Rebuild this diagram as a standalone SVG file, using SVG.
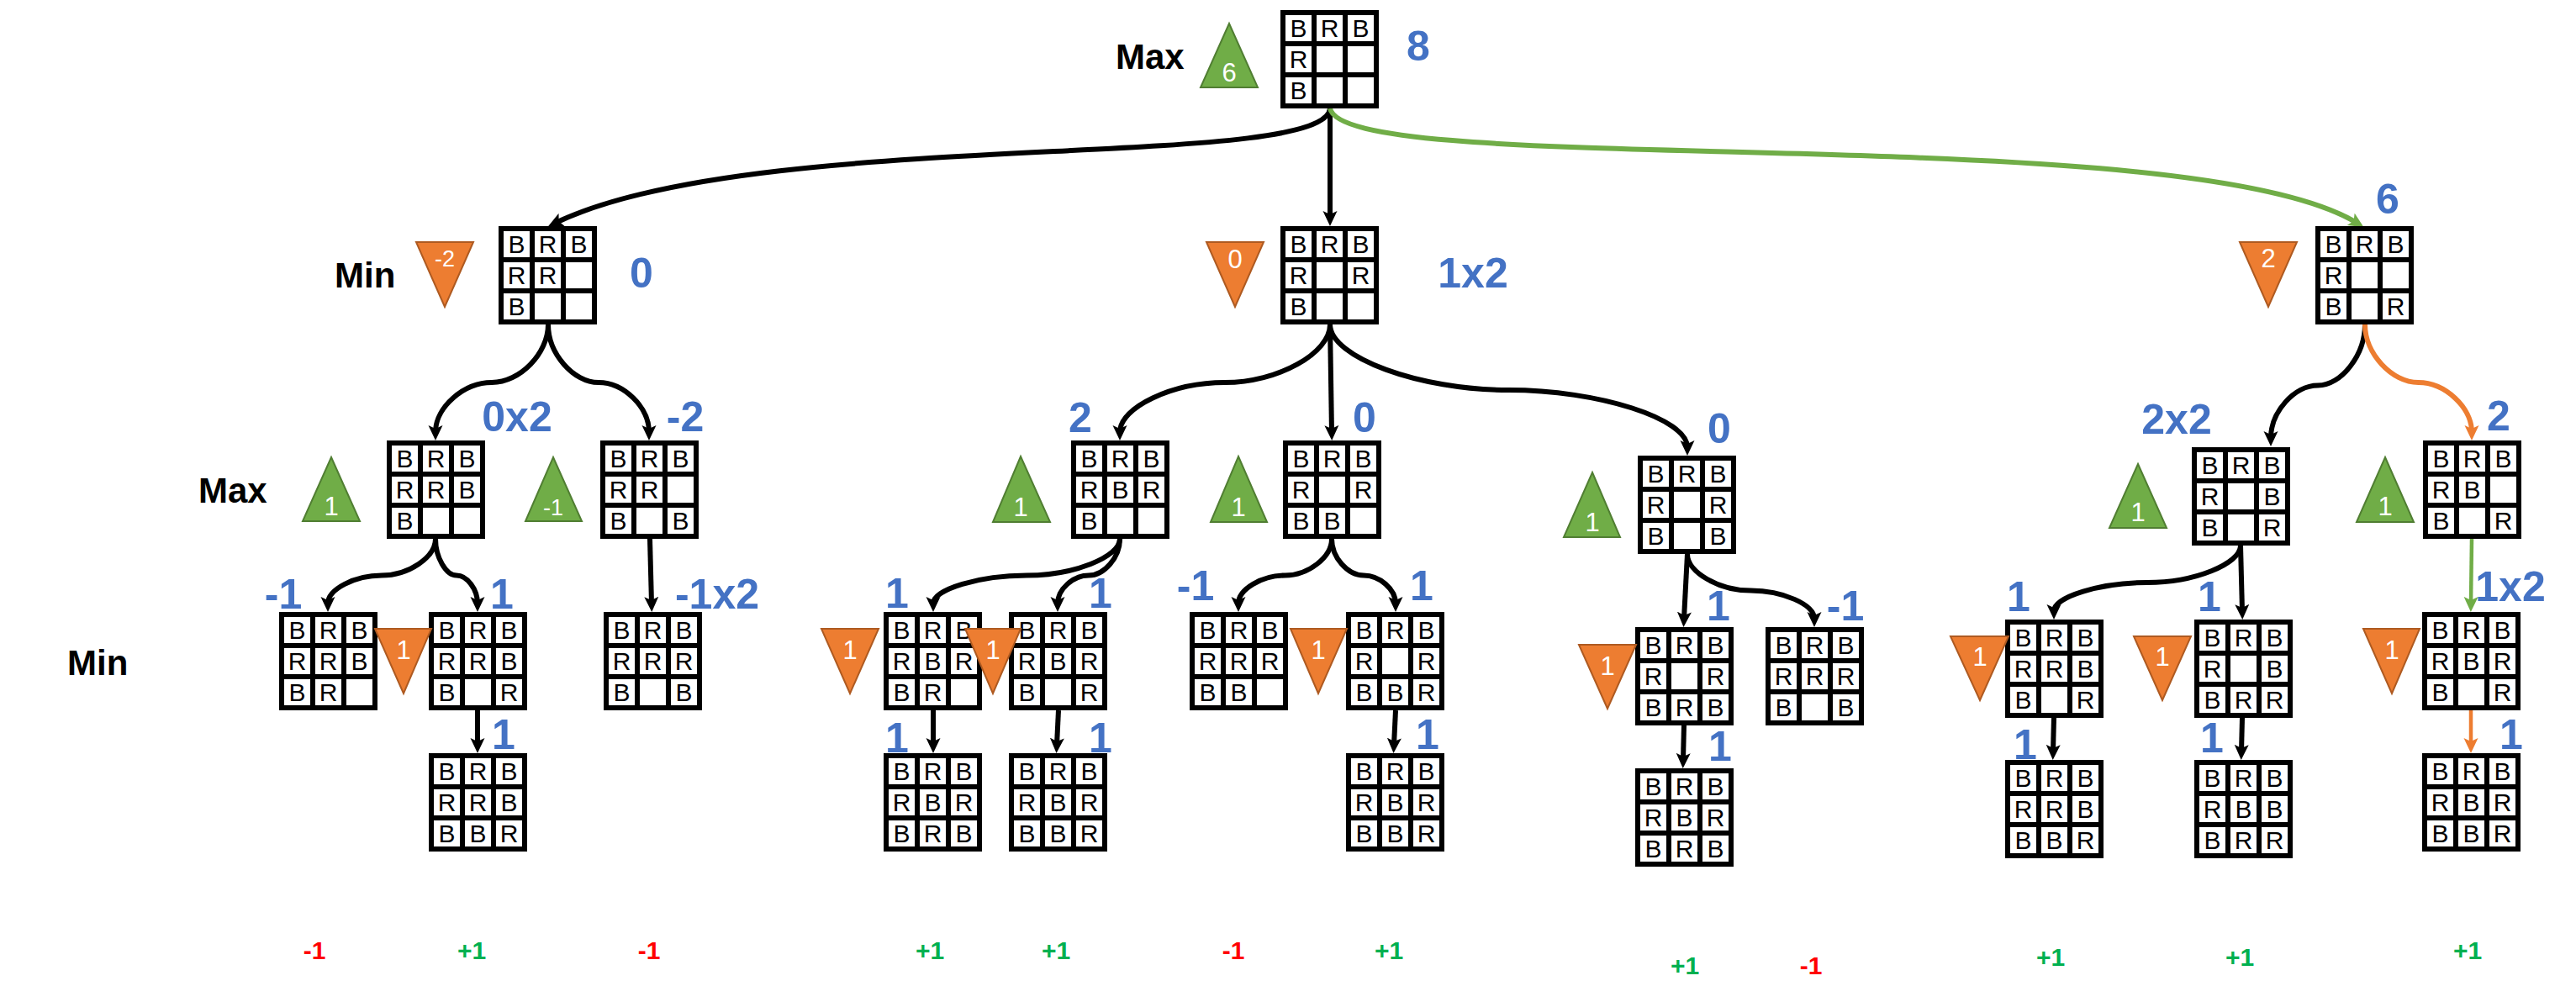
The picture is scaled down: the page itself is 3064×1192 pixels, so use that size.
<svg xmlns="http://www.w3.org/2000/svg" xmlns:xlink="http://www.w3.org/1999/xlink" width="3064" height="1192" viewBox="0 0 3064 1192">
<style>
.c{font-family:"Liberation Sans",Arial,sans-serif;font-size:30px;text-anchor:middle;fill:#000}
.lbl{font-family:"Liberation Sans",Arial,sans-serif;font-weight:bold;font-size:42px;fill:#000}
.v{font-family:"Liberation Sans",Arial,sans-serif;font-weight:bold;font-size:50px;fill:#4472C4;text-anchor:middle}
.tg{fill:#70AD47;stroke:#507E32;stroke-width:2}
.to{fill:#ED7D31;stroke:#AE5A21;stroke-width:2}
.tt{font-family:"Liberation Sans",Arial,sans-serif;font-size:31px;fill:#fff;text-anchor:middle}
.ts{font-size:27px}
.e{fill:none;stroke:#000;stroke-width:6}
.eg{stroke:#70AD47}
.eo{stroke:#ED7D31}
.thin{stroke-width:4.5}
.r{font-family:"Liberation Sans",Arial,sans-serif;font-weight:bold;font-size:30px;text-anchor:middle}
.neg{fill:#FF0000}
.pos{fill:#00B050}
</style>
<defs>
<g id="bd"><rect x="0" y="0" width="117" height="117" fill="#000"/>
<rect x="6" y="6" width="31" height="31" fill="#fff"/><rect x="43" y="6" width="31" height="31" fill="#fff"/><rect x="80" y="6" width="31" height="31" fill="#fff"/>
<rect x="6" y="43" width="31" height="31" fill="#fff"/><rect x="43" y="43" width="31" height="31" fill="#fff"/><rect x="80" y="43" width="31" height="31" fill="#fff"/>
<rect x="6" y="80" width="31" height="31" fill="#fff"/><rect x="43" y="80" width="31" height="31" fill="#fff"/><rect x="80" y="80" width="31" height="31" fill="#fff"/>
</g>
<marker id="ak" viewBox="0 0 18 18" markerWidth="18" markerHeight="18" markerUnits="userSpaceOnUse" refX="8" refY="9" orient="auto"><path d="M0,0.5 L18,9 L0,17.5 L4,9 z" fill="#000"/></marker>
<marker id="ag" viewBox="0 0 18 18" markerWidth="18" markerHeight="18" markerUnits="userSpaceOnUse" refX="8" refY="9" orient="auto"><path d="M0,0.5 L18,9 L0,17.5 L4,9 z" fill="#70AD47"/></marker>
<marker id="ao" viewBox="0 0 18 18" markerWidth="18" markerHeight="18" markerUnits="userSpaceOnUse" refX="8" refY="9" orient="auto"><path d="M0,0.5 L18,9 L0,17.5 L4,9 z" fill="#ED7D31"/></marker>
</defs>
<rect width="3064" height="1192" fill="#fff"/>

<g id="level-labels">
<text class="lbl" x="1327" y="82">Max</text>
<text class="lbl" x="398" y="342">Min</text>
<text class="lbl" x="236" y="598">Max</text>
<text class="lbl" x="80" y="803">Min</text>
</g>

<g id="connectors">
<path class="e" marker-end="url(#ak)" d="M1582,129 C1575,205 900,150 661,265"/>
<path class="e" marker-end="url(#ak)" d="M1582,129 L1582,259"/>
<path class="e eg" marker-end="url(#ag)" d="M1582,129 C1600,215 2600,140 2803,265"/>
<path class="e" marker-end="url(#ak)" d="M652,386 C652,420.5 618.5,455 585,455 C551.5,455 518,484.5 518,514"/>
<path class="e" marker-end="url(#ak)" d="M652,386 C652,420.5 682,455 712,455 C742,455 772,484.5 772,514"/>
<path class="e" marker-end="url(#ak)" d="M1582,386 C1582,420.5 1519.5,455 1457,455 C1394.5,455 1332,484.5 1332,514"/>
<path class="e" marker-end="url(#ak)" d="M1582,386 L1584,514"/>
<path class="e" marker-end="url(#ak)" d="M1582,386 C1582,425 1688,464 1794.5,464 C1901,464 2007,498 2007,532"/>
<path class="e" marker-end="url(#ak)" d="M2813,386 C2813,422 2785,458.5 2757,458.5 C2729,458.5 2701,490 2701,521"/>
<path class="e eo" marker-end="url(#ao)" d="M2813,386 C2813,420.5 2845,455 2876.5,455 C2908,455 2940,484.5 2940,514"/>
<path class="e" marker-end="url(#ak)" d="M518,641 C518,663 486,684.5 454,684.5 C422,684.5 390,701 390,718"/>
<path class="e" marker-end="url(#ak)" d="M518,641 C518,663 530.5,684.5 543,684.5 C555.5,684.5 568,701 568,718"/>
<path class="e" marker-end="url(#ak)" d="M773,641 L775,718"/>
<path class="e" marker-end="url(#ak)" d="M568,845 L568,886"/>
<path class="e" marker-end="url(#ak)" d="M1332,641 C1332,663 1276.5,684.5 1221,684.5 C1165.5,684.5 1110,701 1110,718"/>
<path class="e" marker-end="url(#ak)" d="M1332,641 C1332,663 1313.5,684.5 1295,684.5 C1276.5,684.5 1258,701 1258,718"/>
<path class="e" marker-end="url(#ak)" d="M1584,641 C1584,663 1556,684.5 1528.5,684.5 C1501,684.5 1473,701 1473,718"/>
<path class="e" marker-end="url(#ak)" d="M1584,641 C1584,663 1603,684.5 1622,684.5 C1641,684.5 1660,701 1660,718"/>
<path class="e" marker-end="url(#ak)" d="M1110,845 L1110,886"/>
<path class="e" marker-end="url(#ak)" d="M1259,845 L1257,886"/>
<path class="e" marker-end="url(#ak)" d="M1660,845 L1658,886"/>
<path class="e" marker-end="url(#ak)" d="M2007,659 L2003,736"/>
<path class="e" marker-end="url(#ak)" d="M2007,659 C2007,681 2045,702.5 2082.5,702.5 C2120,702.5 2158,719 2158,736"/>
<path class="e" marker-end="url(#ak)" d="M2003,863 L2002,904"/>
<path class="e" marker-end="url(#ak)" d="M2665,649 C2665,671 2609.5,693 2554,693 C2498.5,693 2443,710 2443,727"/>
<path class="e" marker-end="url(#ak)" d="M2665,649 L2667,727"/>
<path class="e eg thin" marker-end="url(#ag)" d="M2940,641 L2939,718"/>
<path class="e" marker-end="url(#ak)" d="M2443,854 L2442,894"/>
<path class="e" marker-end="url(#ak)" d="M2667,854 L2666,894"/>
<path class="e eo thin" marker-end="url(#ao)" d="M2939,845 L2939,886"/>
</g>

<g id="root">
<g transform="translate(1523,12)"><use href="#bd"/><text class="c" x="21.5 58.5 95.5" y="32">BRB</text><text class="c" x="21.5" y="69">R</text><text class="c" x="21.5" y="106">B</text></g>
<polygon class="tg" points="1462,28 1496,104 1428,104"/><text class="tt" x="1462" y="97">6</text>
<text class="v" x="1687" y="72">8</text>
</g>

<g id="n1a">
<g transform="translate(593,269)"><use href="#bd"/><text class="c" x="21.5 58.5 95.5" y="32">BRB</text><text class="c" x="21.5 58.5" y="69">RR</text><text class="c" x="21.5" y="106">B</text></g>
<polygon class="to" points="495,288 563,288 529,365"/><text class="tt ts" x="529" y="317">-2</text>
<text class="v" x="763" y="342">0</text>
</g>

<g id="n1b">
<g transform="translate(1523,269)"><use href="#bd"/><text class="c" x="21.5 58.5 95.5" y="32">BRB</text><text class="c" x="21.5 95.5" y="69">RR</text><text class="c" x="21.5" y="106">B</text></g>
<polygon class="to" points="1435,288 1503,288 1469,365"/><text class="tt" x="1469" y="319">0</text>
<text class="v" x="1752" y="342">1x2</text>
</g>

<g id="n1c">
<g transform="translate(2754,269)"><use href="#bd"/><text class="c" x="21.5 58.5 95.5" y="32">BRB</text><text class="c" x="21.5" y="69">R</text><text class="c" x="21.5 95.5" y="106">BR</text></g>
<polygon class="to" points="2664,288 2732,288 2698,365"/><text class="tt" x="2698" y="318">2</text>
<text class="v" x="2840" y="254">6</text>
</g>

<g id="n2a">
<g transform="translate(460,524)"><use href="#bd"/><text class="c" x="21.5 58.5 95.5" y="32">BRB</text><text class="c" x="21.5 58.5 95.5" y="69">RRB</text><text class="c" x="21.5" y="106">B</text></g>
<polygon class="tg" points="394,544 428,620 360,620"/><text class="tt" x="394" y="613">1</text>
<text class="v" x="615" y="513">0x2</text>
</g>

<g id="n2b">
<g transform="translate(714,524)"><use href="#bd"/><text class="c" x="21.5 58.5 95.5" y="32">BRB</text><text class="c" x="21.5 58.5" y="69">RR</text><text class="c" x="21.5 95.5" y="106">BB</text></g>
<polygon class="tg" points="658,544 692,620 625,620"/><text class="tt ts" x="658" y="613">-1</text>
<text class="v" x="815" y="513">-2</text>
</g>

<g id="n2c">
<g transform="translate(1274,524)"><use href="#bd"/><text class="c" x="21.5 58.5 95.5" y="32">BRB</text><text class="c" x="21.5 58.5 95.5" y="69">RBR</text><text class="c" x="21.5" y="106">B</text></g>
<polygon class="tg" points="1214,543 1249,621 1181,621"/><text class="tt" x="1214" y="614">1</text>
<text class="v" x="1285" y="514">2</text>
</g>

<g id="n2d">
<g transform="translate(1526,524)"><use href="#bd"/><text class="c" x="21.5 58.5 95.5" y="32">BRB</text><text class="c" x="21.5 95.5" y="69">RR</text><text class="c" x="21.5 58.5" y="106">BB</text></g>
<polygon class="tg" points="1473,543 1507,621 1440,621"/><text class="tt" x="1473" y="614">1</text>
<text class="v" x="1623" y="514">0</text>
</g>

<g id="n2e">
<g transform="translate(1948,542)"><use href="#bd"/><text class="c" x="21.5 58.5 95.5" y="32">BRB</text><text class="c" x="21.5 95.5" y="69">RR</text><text class="c" x="21.5 95.5" y="106">BB</text></g>
<polygon class="tg" points="1894,562 1927,639 1860,639"/><text class="tt" x="1894" y="632">1</text>
<text class="v" x="2045" y="527">0</text>
</g>

<g id="n2f">
<g transform="translate(2607,532)"><use href="#bd"/><text class="c" x="21.5 58.5 95.5" y="32">BRB</text><text class="c" x="21.5 95.5" y="69">RB</text><text class="c" x="21.5 95.5" y="106">BR</text></g>
<polygon class="tg" points="2543,552 2577,628 2509,628"/><text class="tt" x="2543" y="620">1</text>
<text class="v" x="2589" y="516">2x2</text>
</g>

<g id="n2g">
<g transform="translate(2882,524)"><use href="#bd"/><text class="c" x="21.5 58.5 95.5" y="32">BRB</text><text class="c" x="21.5 58.5" y="69">RB</text><text class="c" x="21.5 95.5" y="106">BR</text></g>
<polygon class="tg" points="2837,544 2871,621 2803,621"/><text class="tt" x="2837" y="613">1</text>
<text class="v" x="2972" y="512">2</text>
</g>

<g id="n3h">
<g transform="translate(332,728)"><use href="#bd"/><text class="c" x="21.5 58.5 95.5" y="32">BRB</text><text class="c" x="21.5 58.5 95.5" y="69">RRB</text><text class="c" x="21.5 58.5" y="106">BR</text></g>
<text class="v" x="337" y="724">-1</text>
</g>

<g id="n3i">
<g transform="translate(510,728)"><use href="#bd"/><text class="c" x="21.5 58.5 95.5" y="32">BRB</text><text class="c" x="21.5 58.5 95.5" y="69">RRB</text><text class="c" x="21.5 95.5" y="106">BR</text></g>
<polygon class="to" points="446,748 513,748 480,825"/><text class="tt" x="480" y="784">1</text>
<text class="v" x="597" y="724">1</text>
</g>

<g id="n3j">
<g transform="translate(718,728)"><use href="#bd"/><text class="c" x="21.5 58.5 95.5" y="32">BRB</text><text class="c" x="21.5 58.5 95.5" y="69">RRR</text><text class="c" x="21.5 95.5" y="106">BB</text></g>
<text class="v" x="853" y="724">-1x2</text>
</g>

<g id="n4k">
<g transform="translate(510,896)"><use href="#bd"/><text class="c" x="21.5 58.5 95.5" y="32">BRB</text><text class="c" x="21.5 58.5 95.5" y="69">RRB</text><text class="c" x="21.5 58.5 95.5" y="106">BBR</text></g>
<text class="v" x="599" y="891">1</text>
</g>

<g id="n3l">
<g transform="translate(1051,728)"><use href="#bd"/><text class="c" x="21.5 58.5 95.5" y="32">BRB</text><text class="c" x="21.5 58.5 95.5" y="69">RBR</text><text class="c" x="21.5 58.5" y="106">BR</text></g>
<polygon class="to" points="977,748 1045,748 1011,825"/><text class="tt" x="1011" y="784">1</text>
<text class="v" x="1067" y="723">1</text>
</g>

<g id="n3m">
<g transform="translate(1200,728)"><use href="#bd"/><text class="c" x="21.5 58.5 95.5" y="32">BRB</text><text class="c" x="21.5 58.5 95.5" y="69">RBR</text><text class="c" x="21.5 95.5" y="106">BR</text></g>
<polygon class="to" points="1148,748 1214,748 1181,825"/><text class="tt" x="1181" y="784">1</text>
<text class="v" x="1309" y="723">1</text>
</g>

<g id="n3n">
<g transform="translate(1415,728)"><use href="#bd"/><text class="c" x="21.5 58.5 95.5" y="32">BRB</text><text class="c" x="21.5 58.5 95.5" y="69">RRR</text><text class="c" x="21.5 58.5" y="106">BB</text></g>
<text class="v" x="1422" y="714">-1</text>
</g>

<g id="n3o">
<g transform="translate(1601,728)"><use href="#bd"/><text class="c" x="21.5 58.5 95.5" y="32">BRB</text><text class="c" x="21.5 95.5" y="69">RR</text><text class="c" x="21.5 58.5 95.5" y="106">BBR</text></g>
<polygon class="to" points="1535,748 1602,748 1568,825"/><text class="tt" x="1568" y="784">1</text>
<text class="v" x="1691" y="714">1</text>
</g>

<g id="n4p">
<g transform="translate(1051,896)"><use href="#bd"/><text class="c" x="21.5 58.5 95.5" y="32">BRB</text><text class="c" x="21.5 58.5 95.5" y="69">RBR</text><text class="c" x="21.5 58.5 95.5" y="106">BRB</text></g>
<text class="v" x="1067" y="895">1</text>
</g>

<g id="n4q">
<g transform="translate(1200,896)"><use href="#bd"/><text class="c" x="21.5 58.5 95.5" y="32">BRB</text><text class="c" x="21.5 58.5 95.5" y="69">RBR</text><text class="c" x="21.5 58.5 95.5" y="106">BBR</text></g>
<text class="v" x="1309" y="895">1</text>
</g>

<g id="n4r">
<g transform="translate(1601,896)"><use href="#bd"/><text class="c" x="21.5 58.5 95.5" y="32">BRB</text><text class="c" x="21.5 58.5 95.5" y="69">RBR</text><text class="c" x="21.5 58.5 95.5" y="106">BBR</text></g>
<text class="v" x="1698" y="891">1</text>
</g>

<g id="n3s">
<g transform="translate(1945,746)"><use href="#bd"/><text class="c" x="21.5 58.5 95.5" y="32">BRB</text><text class="c" x="21.5 95.5" y="69">RR</text><text class="c" x="21.5 58.5 95.5" y="106">BRB</text></g>
<polygon class="to" points="1878,767 1946,767 1912,843"/><text class="tt" x="1912" y="803">1</text>
<text class="v" x="2044" y="738">1</text>
</g>

<g id="n3t">
<g transform="translate(2100,746)"><use href="#bd"/><text class="c" x="21.5 58.5 95.5" y="32">BRB</text><text class="c" x="21.5 58.5 95.5" y="69">RRR</text><text class="c" x="21.5 95.5" y="106">BB</text></g>
<text class="v" x="2195" y="738">-1</text>
</g>

<g id="n4u">
<g transform="translate(1945,914)"><use href="#bd"/><text class="c" x="21.5 58.5 95.5" y="32">BRB</text><text class="c" x="21.5 58.5 95.5" y="69">RBR</text><text class="c" x="21.5 58.5 95.5" y="106">BRB</text></g>
<text class="v" x="2046" y="905">1</text>
</g>

<g id="n3v">
<g transform="translate(2385,737)"><use href="#bd"/><text class="c" x="21.5 58.5 95.5" y="32">BRB</text><text class="c" x="21.5 58.5 95.5" y="69">RRB</text><text class="c" x="21.5 95.5" y="106">BR</text></g>
<polygon class="to" points="2320,757 2389,757 2355,833"/><text class="tt" x="2355" y="792">1</text>
<text class="v" x="2401" y="727">1</text>
</g>

<g id="n3w">
<g transform="translate(2610,737)"><use href="#bd"/><text class="c" x="21.5 58.5 95.5" y="32">BRB</text><text class="c" x="21.5 95.5" y="69">RB</text><text class="c" x="21.5 58.5 95.5" y="106">BRR</text></g>
<polygon class="to" points="2538,757 2606,757 2572,833"/><text class="tt" x="2572" y="792">1</text>
<text class="v" x="2628" y="727">1</text>
</g>

<g id="n3x">
<g transform="translate(2881,728)"><use href="#bd"/><text class="c" x="21.5 58.5 95.5" y="32">BRB</text><text class="c" x="21.5 58.5 95.5" y="69">RBR</text><text class="c" x="21.5 95.5" y="106">BR</text></g>
<polygon class="to" points="2811,748 2878,748 2845,825"/><text class="tt" x="2845" y="784">1</text>
<text class="v" x="2986" y="715">1x2</text>
</g>

<g id="n4y">
<g transform="translate(2385,904)"><use href="#bd"/><text class="c" x="21.5 58.5 95.5" y="32">BRB</text><text class="c" x="21.5 58.5 95.5" y="69">RRB</text><text class="c" x="21.5 58.5 95.5" y="106">BBR</text></g>
<text class="v" x="2409" y="903">1</text>
</g>

<g id="n4z">
<g transform="translate(2610,904)"><use href="#bd"/><text class="c" x="21.5 58.5 95.5" y="32">BRB</text><text class="c" x="21.5 58.5 95.5" y="69">RBB</text><text class="c" x="21.5 58.5 95.5" y="106">BRR</text></g>
<text class="v" x="2631" y="895">1</text>
</g>

<g id="n4aa">
<g transform="translate(2881,896)"><use href="#bd"/><text class="c" x="21.5 58.5 95.5" y="32">BRB</text><text class="c" x="21.5 58.5 95.5" y="69">RBR</text><text class="c" x="21.5 58.5 95.5" y="106">BBR</text></g>
<text class="v" x="2987" y="891">1</text>
</g>

<g id="results">
<text class="r neg" x="374" y="1141">-1</text>
<text class="r pos" x="561" y="1141">+1</text>
<text class="r neg" x="772" y="1141">-1</text>
<text class="r pos" x="1106" y="1141">+1</text>
<text class="r pos" x="1256" y="1141">+1</text>
<text class="r neg" x="1467" y="1141">-1</text>
<text class="r pos" x="1652" y="1141">+1</text>
<text class="r pos" x="2004" y="1159">+1</text>
<text class="r neg" x="2154" y="1159">-1</text>
<text class="r pos" x="2439" y="1149">+1</text>
<text class="r pos" x="2664" y="1149">+1</text>
<text class="r pos" x="2935" y="1141">+1</text>
</g>
</svg>
